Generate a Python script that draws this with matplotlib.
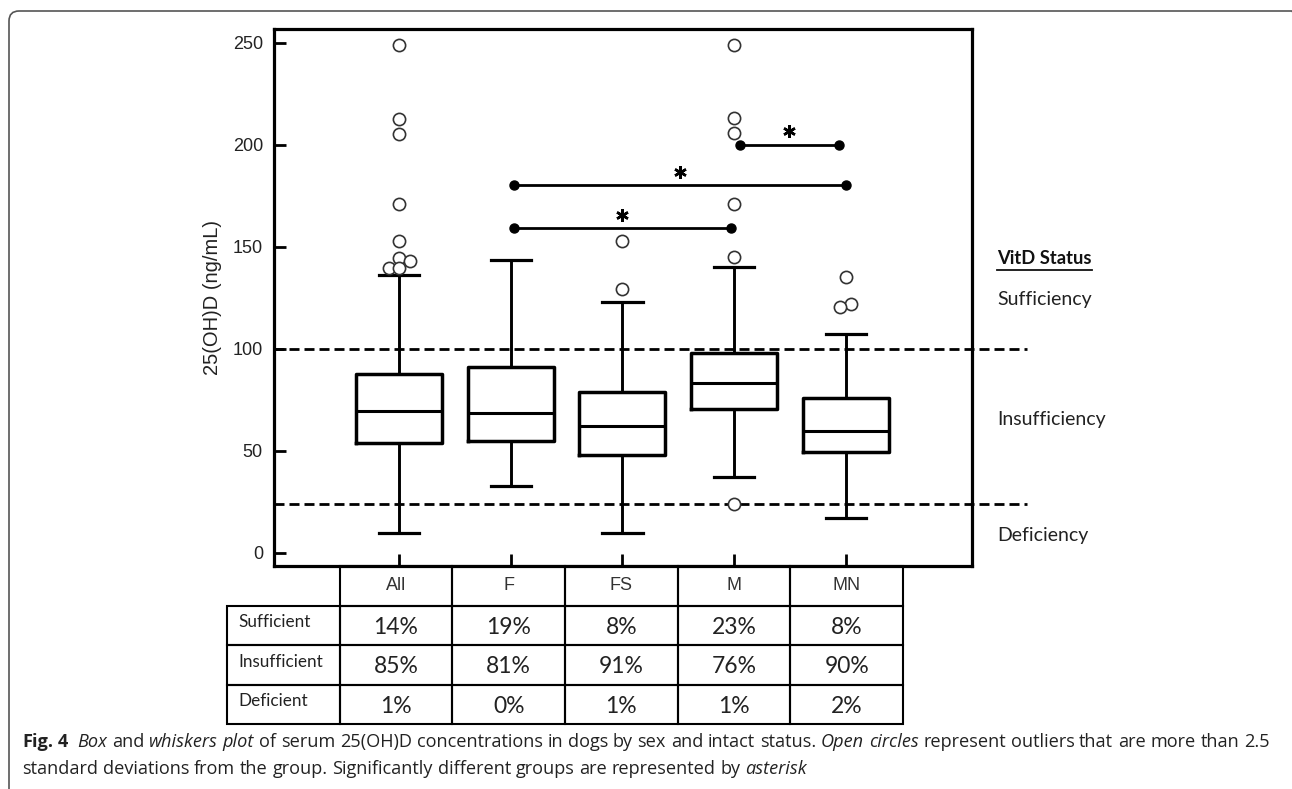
import matplotlib
matplotlib.use('Agg')
import matplotlib.pyplot as plt
import matplotlib.transforms as mtransforms
from matplotlib.patches import Rectangle, FancyBboxPatch
from matplotlib.lines import Line2D

# ---- data ----
groups = ['All', 'F', 'FS', 'M', 'MN']
q1 = [53.9, 54.8, 47.9, 70.4, 49.5]
medians = [69.6, 68.5, 62.0, 83.2, 59.7]
q3 = [87.7, 90.9, 78.8, 98.0, 75.7]
whisk_lo = [9.5, 32.7, 9.7, 37.1, 17.2]
whisk_hi = [136.0, 143.4, 123.0, 140.2, 107.0]
outliers = [
    [248.9, 212.6, 205.4, 171.0, 152.8, 144.6, 143.1, 139.4, 139.4],
    [],
    [152.8, 129.1],
    [249.0, 212.9, 205.6, 170.9, 145.1, 23.9],
    [135.0, 121.9, 120.6],
]
sufficient_cut = 100
deficient_cut = 24
# significance bars: (group a, group b, height)
sig_bars = [('F', 'M', 159), ('F', 'MN', 180), ('M', 'MN', 200)]

row_labels = ['Sufficient', 'Insufficient', 'Deficient']
pct_sufficient = [14, 19, 8, 23, 8]
pct_insufficient = [85, 81, 91, 76, 90]
pct_deficient = [1, 0, 1, 1, 2]

status_labels = ['Sufficiency', 'Insufficiency', 'Deficiency']

# sideways nudges so overlapping circles stay visible (layout only)
jitter = [[0, 0, 0, 0, 0, 0, 0.1, -0.09, 0], [], [0, 0], [0] * 6, [0, 0.045, -0.05]]

W, H = 1292, 789
fig = plt.figure(figsize=(W / 100, H / 100), dpi=100)
fig.patch.set_facecolor('white')

def fx(px):
    return px / W

def fy(py):
    return 1 - py / H

# outer caption frame (runs off the right and bottom edges)
frame = FancyBboxPatch((9, -30), 1293, 808, boxstyle='round,pad=0,rounding_size=10',
                       transform=mtransforms.IdentityTransform(), fill=False,
                       ec='#555555', lw=1.2)
fig.add_artist(frame)

ax = fig.add_axes([fx(274), fy(566), fx(972) - fx(274), fy(29) - fy(566)])
pos = list(range(1, len(groups) + 1))
stats = []
for i, g in enumerate(groups):
    stats.append(dict(label=g, q1=q1[i], med=medians[i], q3=q3[i],
                      whislo=whisk_lo[i], whishi=whisk_hi[i], fliers=[]))
ax.bxp(stats, positions=pos, widths=0.77, capwidths=0.36, showfliers=False,
       boxprops=dict(lw=2.5, color='black'), medianprops=dict(lw=2.2, color='black'),
       whiskerprops=dict(lw=2.1, color='black'), capprops=dict(lw=2.3, color='black'))

for i, vals in enumerate(outliers):
    xs = [pos[i] + j for j in jitter[i]]
    ax.plot(xs, vals, 'o', ms=8.8, mfc='white', mec='#333333', mew=1.2, zorder=4)

# threshold lines run out past the right spine
trans = mtransforms.blended_transform_factory(ax.transAxes, ax.transData)
for yv in (sufficient_cut, deficient_cut):
    ax.plot([0, 1.079], [yv, yv], color='black', lw=2.0, dashes=(3.6, 1.8),
            transform=trans, clip_on=False, zorder=1)

# significance bars with asterisks
for a, b, h in sig_bars:
    xa = pos[groups.index(a)] + 0.03
    xb = pos[groups.index(b)] - 0.03
    if b == 'MN' and a == 'F':
        xb = pos[groups.index(b)]
    if a == 'M':
        xa += 0.02
        xb -= 0.03
    ax.plot([xa, xb], [h, h], color='black', lw=2.0, marker='o', ms=6.5, zorder=5)
    ax.plot([(xa + xb) / 2], [h + 6.7], marker=(6, 2, 0), ms=9, mew=1.8, color='black',
            zorder=5)

ax.set_xlim(-0.12, 6.13)
ax.set_ylim(-6.5, 256.7)
ax.set_yticks([0, 50, 100, 150, 200, 250])
ax.set_xticks(pos)
ax.set_xticklabels([])
ax.tick_params(axis='y', direction='in', length=8.5, width=2.0, labelsize=13,
               pad=8, labelcolor='#222222')
ax.tick_params(axis='x', direction='in', length=8.5, width=2.0)
for lab in ax.get_yticklabels():
    lab.set_family('Liberation Sans')
for s in ax.spines.values():
    s.set_linewidth(2.3)
ax.set_ylabel('25(OH)D (ng/mL)', fontsize=14.5, family='Liberation Sans',
              color='#222222', labelpad=8)

# status labels on the right
vit = fig.text(fx(997), fy(258), 'VitD Status', fontsize=13.2, family='Lato',
               fontweight='bold', va='center', ha='left', color='#111111')
status_y = [300, 420, 535]
for lab, yy in zip(status_labels, status_y):
    fig.text(fx(997), fy(yy), lab, fontsize=14, family='Lato', va='center', ha='left',
             color='#222222')

# table below the axes
tax = fig.add_axes([fx(227), fy(724), fx(903) - fx(227), fy(566) - fy(724)])
tax.set_xlim(0, 6)
tax.set_ylim(4, 0)
tax.axis('off')
rows = [pct_sufficient, pct_insufficient, pct_deficient]
for r in range(4):
    for c in range(6):
        if r == 0 and c == 0:
            continue
        tax.add_patch(Rectangle((c, r), 1, 1, fill=False, lw=1.5, ec='black', clip_on=False))
for c, g in enumerate(groups):
    tax.text(c + 1.5, 0.5, g, ha='center', va='center', fontsize=13,
             family='Liberation Sans', color='#333333')
for r, lab in enumerate(row_labels):
    tax.text(0.1, r + 1.42, lab, ha='left', va='center', fontsize=12.3, family='Lato',
             color='#222222')
    for c, v in enumerate(rows[r]):
        tax.text(c + 1.5, r + 1.55, f'{v}%', ha='center', va='center', fontsize=16.5,
                 family='Lato', color='#222222')

fig.canvas.draw()
rend = fig.canvas.get_renderer()

# underline under "VitD Status"
bb = vit.get_window_extent(rend)
fig.add_artist(Line2D([bb.x0, bb.x1], [H - 270, H - 270], lw=1.3, color='#111111',
                      transform=mtransforms.IdentityTransform()))

# caption with mixed styles
def tw(s, size, style):
    t = fig.text(0, 0, s, fontsize=size, family='Open Sans',
                 fontweight='bold' if style == 'b' else 'normal',
                 fontstyle='italic' if style == 'i' else 'normal')
    w = t.get_window_extent(rend).width
    t.remove()
    return w

def draw_runs(parts, x, y, size, draw=True):
    for s, style in parts:
        words = s.split(' ')
        for k, wd in enumerate(words):
            if wd:
                if draw:
                    fig.text(fx(x), fy(y), wd, fontsize=size, family='Open Sans',
                             fontweight='bold' if style == 'b' else 'normal',
                             fontstyle='italic' if style == 'i' else 'normal',
                             va='baseline', ha='left', color='#222222')
                x += tw(wd, size, style)
            if k < len(words) - 1:
                x += tw('x x', size, style) - tw('xx', size, style)
    return x

line1 = [('Fig. 4', 'b'), ('  ', 'n'), ('Box', 'i'), (' and ', 'n'), ('whiskers plot', 'i'),
         (' of serum 25(OH)D concentrations in dogs by sex and intact status. ', 'n'),
         ('Open circles', 'i'), (' represent outliers that are more than 2.5', 'n')]
line2 = [('standard deviations from the group. Significantly different groups are represented by ', 'n'),
         ('asterisk', 'i')]
base = 10.5
end = draw_runs(line1, 22, 747, base, draw=False)
size = base * (1275 - 22) / (end - 22)
draw_runs(line1, 22, 747, size)
draw_runs(line2, 22, 774, size)

fig.savefig('out.png', dpi=100)
